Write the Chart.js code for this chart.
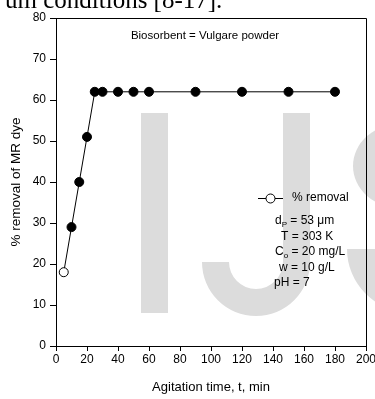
<!DOCTYPE html>
<html>
<head>
<meta charset="utf-8">
<script src="https://cdn.jsdelivr.net/npm/chart.js@4"></script>
<style>
  html, body { margin: 0; padding: 0; background: #fff; }
  #wrap { position: relative; width: 375px; height: 399px; overflow: hidden; }
  #topText { position: absolute; left: 5px; top: -13px; font: 25px "Liberation Serif", "Times New Roman", serif; line-height: 25px; white-space: nowrap; color: #000; }
  canvas { position: absolute; left: 0; top: 0; }
</style>
</head>
<body>
<div id="wrap">
  <canvas id="chart" width="375" height="399"></canvas>
  <div id="topText">um conditions [8-17].</div>
</div>
<script>
// agitation time (min) and % removal
const times = [5, 10, 15, 20, 25, 30, 40, 50, 60, 90, 120, 150, 180];
const removal = [18, 29, 40, 51, 62, 62, 62, 62, 62, 62, 62, 62, 62];
const xTickRange = { min: 0, max: 200, step: 20 };
const yTickRange = { min: 0, max: 80, step: 10 };
const legendLabel = "% removal";
const titleNote = "Biosorbent = Vulgare powder";
const conditions = [
  { main: "d", sub: "P", rest: " = 53 \u03bcm", x: 275 },
  { main: "T = 303 K", sub: "", rest: "", x: 281 },
  { main: "C", sub: "o", rest: " = 20 mg/L", x: 275 },
  { main: "w = 10 g/L", sub: "", rest: "", x: 279 },
  { main: "pH = 7", sub: "", rest: "", x: 274 }
];

const FONT = '"Liberation Sans", Arial, sans-serif';

// faint "IJS" watermark behind the plot
const watermark = {
  id: 'watermark',
  beforeDraw(chart) {
    const ctx = chart.ctx;
    ctx.save();
    ctx.fillStyle = '#dcdcdc';
    ctx.fillRect(141, 113, 27, 200);
    ctx.fillRect(283, 113, 27, 150);
    ctx.beginPath();
    ctx.arc(256, 262, 54, 0, Math.PI, false);
    ctx.arc(256, 262, 27, Math.PI, 0, true);
    ctx.closePath();
    ctx.fill();
    ctx.beginPath();
    ctx.ellipse(400, 166, 47, 42, 0, 0, Math.PI * 2);
    ctx.fill();
    ctx.beginPath();
    ctx.moveTo(410, 249);
    ctx.lineTo(347, 249);
    ctx.arc(410, 249, 63, Math.PI, Math.PI / 2, true);
    ctx.closePath();
    ctx.fill();
    ctx.restore();
  }
};

const frameAndNotes = {
  id: 'frameAndNotes',
  afterDatasetsDraw(chart) {
    const ctx = chart.ctx;
    const a = chart.chartArea;
    ctx.save();
    ctx.strokeStyle = '#000';
    ctx.lineWidth = 1;
    ctx.beginPath();
    ctx.moveTo(a.left, a.top + 0.5);
    ctx.lineTo(a.right + 0.5, a.top + 0.5);
    ctx.lineTo(a.right + 0.5, a.bottom);
    ctx.stroke();

    ctx.fillStyle = '#000';
    ctx.textBaseline = 'middle';
    ctx.font = '11.5px ' + FONT;
    ctx.textAlign = 'center';
    ctx.fillText(titleNote, 205, 36);

    // legend
    const ly = 198;
    ctx.beginPath();
    ctx.moveTo(258, ly + 0.5);
    ctx.lineTo(283, ly + 0.5);
    ctx.stroke();
    ctx.beginPath();
    ctx.arc(270.5, ly + 0.5, 4.5, 0, Math.PI * 2);
    ctx.fillStyle = '#fff';
    ctx.fill();
    ctx.stroke();
    ctx.fillStyle = '#000';
    ctx.textAlign = 'left';
    ctx.font = '12px ' + FONT;
    ctx.fillText(legendLabel, 292, ly);

    // conditions
    let y = 221;
    conditions.forEach(c => {
      let x = c.x;
      ctx.font = '12px ' + FONT;
      ctx.fillText(c.main, x, y);
      x += ctx.measureText(c.main).width;
      if (c.sub) {
        ctx.font = '8px ' + FONT;
        ctx.fillText(c.sub, x, y + 4);
        x += ctx.measureText(c.sub).width;
        ctx.font = '12px ' + FONT;
      }
      if (c.rest) ctx.fillText(c.rest, x, y);
      y += 15.5;
    });
    ctx.restore();
  }
};

function noPad(scale) {
  scale.paddingLeft = 0;
  scale.paddingRight = 0;
  scale.paddingTop = 0;
  scale.paddingBottom = 0;
}

new Chart(document.getElementById('chart'), {
  type: 'line',
  data: {
    labels: times,
    datasets: [{
      label: legendLabel,
      data: times.map((t, i) => ({ x: t, y: removal[i] })),
      borderColor: '#000',
      borderWidth: 1,
      pointRadius: 4.5,
      pointBorderWidth: 1,
      pointBorderColor: '#000',
      pointBackgroundColor: times.map((t, i) => i === 0 ? '#fff' : '#000'),
      tension: 0,
      clip: false
    }]
  },
  options: {
    responsive: false,
    animation: false,
    devicePixelRatio: 1,
    layout: { padding: { left: 0, right: 9, top: 18, bottom: 0 } },
    plugins: { legend: { display: false }, tooltip: { enabled: false } },
    scales: {
      x: {
        type: 'linear',
        min: xTickRange.min,
        max: xTickRange.max,
        ticks: { stepSize: xTickRange.step, color: '#000', font: { family: FONT, size: 12 }, padding: 1, maxRotation: 0 },
        grid: { drawOnChartArea: false, drawTicks: true, tickLength: 5, color: '#000' },
        border: { display: true, color: '#000', width: 1 },
        title: { display: true, text: 'Agitation time, t, min', color: '#000', font: { family: FONT, size: 13 }, padding: { top: 8, bottom: 4 } },
        afterFit(scale) { scale.height = 53; noPad(scale); }
      },
      y: {
        min: yTickRange.min,
        max: yTickRange.max,
        ticks: { stepSize: yTickRange.step, color: '#000', font: { family: FONT, size: 12 }, padding: 4 },
        grid: { drawOnChartArea: false, drawTicks: true, tickLength: 6, color: '#000' },
        border: { display: true, color: '#000', width: 1 },
        title: { display: true, text: '% removal of MR dye', color: '#000', font: { family: FONT, size: 13.5 }, padding: { top: 8, bottom: 0 } },
        afterFit(scale) { scale.width = 56; noPad(scale); }
      }
    }
  },
  plugins: [watermark, frameAndNotes]
});
</script>
</body>
</html>
